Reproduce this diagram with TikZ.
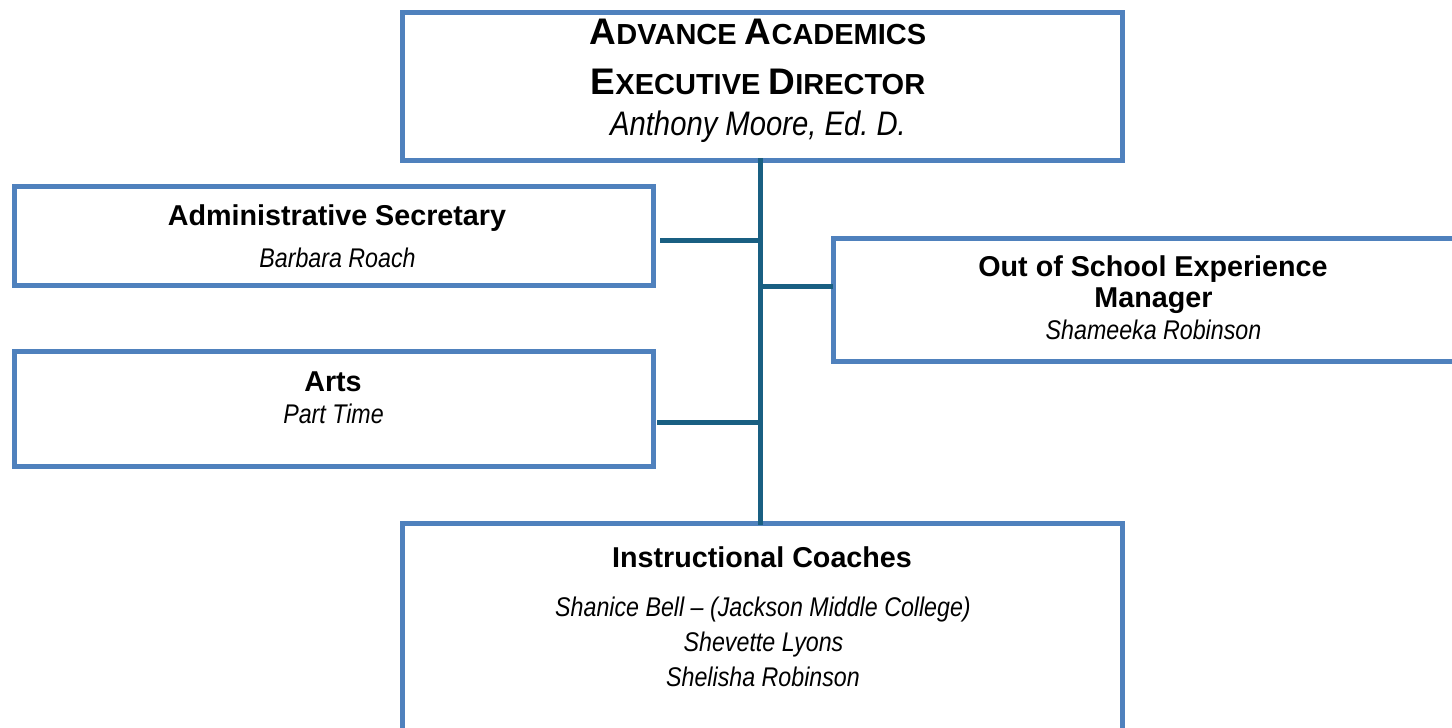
\documentclass[tikz,border=0pt]{standalone}
\usepackage{fontspec}
\setmainfont{Liberation Sans}
\newfontfamily\nameit{Liberation Sans}[FakeStretch=0.86]
\definecolor{boxblue}{RGB}{79,129,189}
\definecolor{linkteal}{RGB}{25,95,130}
\newcommand\hsc[2]{{\fontsize{37}{40}\selectfont #1}{\fontsize{29}{32}\selectfont #2}}
\begin{document}
\begin{tikzpicture}[x=1pt,y=-1pt,
  orgbox/.style={draw=boxblue,line width=5pt,rectangle,inner sep=0pt,outer sep=0pt},
  link/.style={draw=linkteal,line width=5pt},
  head/.style={anchor=base,inner sep=0pt,font=\fontsize{28.7}{34}\selectfont\bfseries},
  who/.style={anchor=base,inner sep=0pt,font=\fontsize{27}{32}\selectfont\nameit\itshape}]
\useasboundingbox[fill=white] (0,0) rectangle (1452,728);
\clip (0,0) rectangle (1452,728);

% boxes
\node[orgbox,minimum width=720pt,minimum height=148pt] (top) at (762,86) {};
\node[orgbox,minimum width=639pt,minimum height=99pt] (admin) at (333.5,235.5) {};
\node[orgbox,minimum width=639pt,minimum height=114.5pt] (arts) at (333.5,408.75) {};
\node[orgbox,minimum width=640pt,minimum height=123pt] (right) at (1153,299.5) {};
\node[orgbox,minimum width=720pt,minimum height=277pt] (bot) at (762,661.5) {};

% junctions
\coordinate (jA) at (760,240);
\coordinate (jO) at (760,286);
\coordinate (jR) at (760,422);

% connectors
\draw[link] ([yshift=2pt]top.south -| jA) -- ([yshift=-2pt]bot.north -| jA);
\draw[link] ([xshift=7pt]admin.east |- jA) -- (jA);
\draw[link] ([xshift=4pt]arts.east |- jR) -- (jR);
\draw[link] (jO) -- (right.west |- jO);

% texts: top
\node[head] (t1) at (758,45) {\hsc{A}{DVANCE }\hsc{A}{CADEMICS}};
\node[head] (t2) at (758,94) {\hsc{E}{XECUTIVE }\hsc{D}{IRECTOR}};
\node[anchor=base,inner sep=0pt,font=\fontsize{34}{40}\selectfont\nameit\itshape] (t3) at (758,135) {Anthony Moore, Ed.\ D.};

% admin
\node[head] (a1) at (337,225) {Administrative Secretary};
\node[who] (a2) at (337.5,267) {Barbara Roach};

% arts
\node[head] (r1) at (333,391) {Arts};
\node[who] (r2) at (333.5,423) {Part Time};

% out of school
\node[head] (o1) at (1153,276) {Out of School Experience};
\node[head] (o2) at (1153.5,307) {Manager};
\node[who] (o3) at (1153.5,339) {Shameeka Robinson};

% instructional coaches
\node[head] (c1) at (762,567) {Instructional Coaches};
\node[who] (c2) at (763,616) {Shanice Bell – (Jackson Middle College)};
\node[who] (c3) at (763.5,651) {Shevette Lyons};
\node[who] (c4) at (763,686) {Shelisha Robinson};
\end{tikzpicture}
\end{document}
